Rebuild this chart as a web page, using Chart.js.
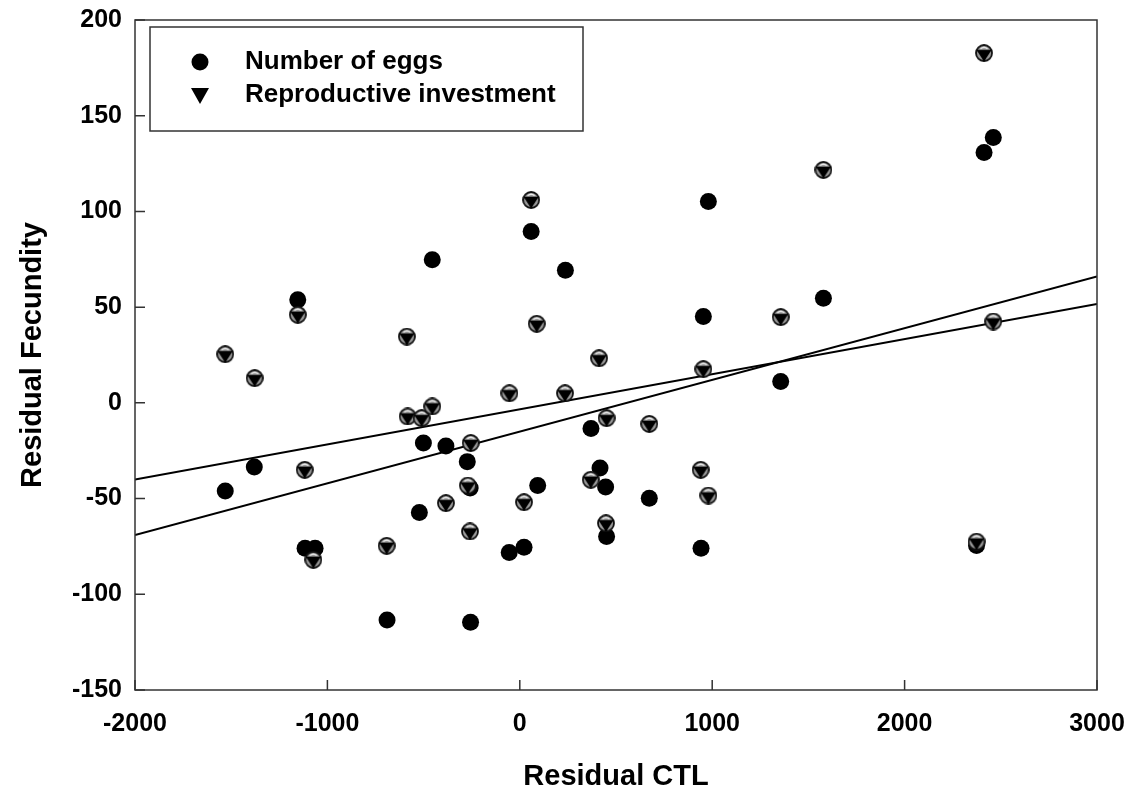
<!DOCTYPE html>
<html>
<head>
<meta charset="utf-8">
<script src="https://cdn.jsdelivr.net/npm/chart.js@4.4.1/dist/chart.umd.min.js"></script>
<style>
    html, body { margin: 0; padding: 0; background: #fff; }
</style>
</head>
<body>
<canvas id="fecundityChart" width="1133" height="800"></canvas>
<script>
// Number of eggs (filled circles)
const eggsX = [-1531, -1380, -1154, -1116, -1064, -690, -522, -501, -455, -384, -273, -258, -256, -55, 22, 59, 93, 237, 370, 417, 446, 451, 673, 942, 954, 980, 1356, 1578, 2374, 2413, 2461];
const eggsY = [-46, -33.5, 53.8, -75.9, -75.9, -113.4, -57.3, -21, 74.7, -22.5, -30.7, -44.5, -114.6, -78.2, -75.4, 89.5, -43.2, 69.3, -13.4, -34, -44, -69.8, -49.8, -75.9, 45.1, 105.2, 11.1, 54.7, -74.5, 130.8, 138.6];

// Reproductive investment (down triangles)
const investX = [-1531, -1378, -1154, -1118, -1073, -692, -587, -583, -510, -455, -384, -270, -259, -255, -54, 22, 59, 88, 235, 369, 412, 448, 451, 673, 940, 954, 980, 1356, 1578, 2374, 2413, 2461];
const investY = [25.4, 12.9, 46, -35, -82, -74.7, 34.6, -7.1, -8, -1.9, -52.4, -43.2, -67.2, -21, 5, -51.9, 106, 41.3, 5, -40.2, 23.3, -62.9, -8, -11, -35, 17.6, -48.4, 44.8, 121.7, -72.5, 182.7, 42.5];

// fitted lines (end points)
const fitEggsX = [-2000, 3000];
const fitEggsY = [-69, 66];
const fitInvestX = [-2000, 3000];
const fitInvestY = [-40, 51.7];

const xTicks = [-2000, -1000, 0, 1000, 2000, 3000];
const yTicks = [-150, -100, -50, 0, 50, 100, 150, 200];

const FONT = '"Liberation Sans", Arial, Helvetica, sans-serif';

function toPoints(xs, ys) {
    return xs.map((x, i) => ({ x: x, y: ys[i] }));
}

// circle with a black down-pointing triangle inside
function makeInvestMarker(size) {
    const c = document.createElement('canvas');
    c.width = size;
    c.height = size;
    const g = c.getContext('2d');
    const cx = size / 2, cy = size / 2, r = size / 2 - 1;
    g.beginPath();
    g.arc(cx, cy, r, 0, Math.PI * 2);
    g.fillStyle = '#9a9a9a';
    g.fill();
    g.lineWidth = 1.8;
    g.strokeStyle = '#111';
    g.stroke();
    g.beginPath();
    g.moveTo(cx - r * 0.95, cy - r * 0.42);
    g.lineTo(cx + r * 0.95, cy - r * 0.42);
    g.lineTo(cx, cy + r + 0.5);
    g.closePath();
    g.fillStyle = '#000';
    g.fill();
    g.beginPath();
    g.arc(cx, cy, r - 2.5, Math.PI * 1.28, Math.PI * 1.72);
    g.lineWidth = 1.4;
    g.strokeStyle = '#eee';
    g.stroke();
    return c;
}

const investMarker = makeInvestMarker(18);

const frameAndTicks = {
    id: 'frameAndTicks',
    afterDatasetsDraw(chart) {
        const { ctx, chartArea: a, scales } = chart;
        ctx.save();
        ctx.strokeStyle = '#333';
        ctx.lineWidth = 1.5;
        ctx.strokeRect(a.left, a.top, a.right - a.left, a.bottom - a.top);
        ctx.beginPath();
        xTicks.forEach(v => {
            const px = scales.x.getPixelForValue(v);
            ctx.moveTo(px, a.bottom);
            ctx.lineTo(px, a.bottom - 10);
        });
        yTicks.forEach(v => {
            const py = scales.y.getPixelForValue(v);
            ctx.moveTo(a.left, py);
            ctx.lineTo(a.left + 10, py);
        });
        ctx.stroke();
        ctx.restore();
    }
};

const boxLegend = {
    id: 'boxLegend',
    afterDraw(chart) {
        const { ctx, chartArea: a } = chart;
        const x0 = a.left + 15, y0 = a.top + 7, w = 433, h = 104;
        ctx.save();
        ctx.fillStyle = '#fff';
        ctx.fillRect(x0, y0, w, h);
        ctx.strokeStyle = '#333';
        ctx.lineWidth = 1.5;
        ctx.strokeRect(x0, y0, w, h);

        const rows = [y0 + 35, y0 + 68];
        // circle marker
        ctx.beginPath();
        ctx.arc(x0 + 50, rows[0], 8.5, 0, Math.PI * 2);
        ctx.fillStyle = '#000';
        ctx.fill();
        // triangle marker
        ctx.beginPath();
        ctx.moveTo(x0 + 41, rows[1] - 7);
        ctx.lineTo(x0 + 59, rows[1] - 7);
        ctx.lineTo(x0 + 50, rows[1] + 9);
        ctx.closePath();
        ctx.fill();

        ctx.font = 'bold 26px ' + FONT;
        ctx.textBaseline = 'middle';
        ctx.textAlign = 'left';
        ctx.fillText(chart.data.datasets[0].label, x0 + 95, rows[0]);
        ctx.fillText(chart.data.datasets[1].label, x0 + 95, rows[1]);
        ctx.restore();
    }
};

new Chart(document.getElementById('fecundityChart').getContext('2d'), {
    type: 'scatter',
    data: {
        datasets: [
            {
                label: 'Number of eggs',
                data: toPoints(eggsX, eggsY),
                pointStyle: 'circle',
                pointRadius: 8.5,
                backgroundColor: '#000',
                borderColor: '#000',
                borderWidth: 0,
                order: 2
            },
            {
                label: 'Reproductive investment',
                data: toPoints(investX, investY),
                pointStyle: investMarker,
                pointRadius: 9,
                order: 1
            },
            {
                type: 'line',
                label: 'fit eggs',
                data: toPoints(fitEggsX, fitEggsY),
                borderColor: '#000',
                borderWidth: 2,
                pointRadius: 0,
                fill: false,
                order: 3
            },
            {
                type: 'line',
                label: 'fit investment',
                data: toPoints(fitInvestX, fitInvestY),
                borderColor: '#000',
                borderWidth: 2,
                pointRadius: 0,
                fill: false,
                order: 3
            }
        ]
    },
    options: {
        responsive: false,
        animation: false,
        devicePixelRatio: 1,
        layout: { padding: { top: 20, right: 36, left: 0, bottom: 0 } },
        plugins: {
            legend: { display: false },
            tooltip: { enabled: false }
        },
        scales: {
            x: {
                type: 'linear',
                min: -2000,
                max: 3000,
                afterBuildTicks: s => { s.ticks = xTicks.map(v => ({ value: v })); },
                afterFit: s => {
                    s.height = 110;
                    s.paddingLeft = 0;
                    s.paddingRight = 0;
                },
                grid: { display: false, drawTicks: false },
                border: { display: false },
                ticks: {
                    autoSkip: false,
                    maxRotation: 0,
                    padding: 19,
                    color: '#000',
                    font: { family: FONT, size: 25, weight: 'bold' },
                    callback: v => String(v)
                },
                title: {
                    display: true,
                    text: 'Residual CTL',
                    color: '#000',
                    padding: { top: 0, bottom: 6 },
                    font: { family: FONT, size: 29, weight: 'bold' }
                }
            },
            y: {
                type: 'linear',
                min: -150,
                max: 200,
                afterBuildTicks: s => { s.ticks = yTicks.map(v => ({ value: v })); },
                afterFit: s => {
                    s.width = 135;
                    s.paddingTop = 0;
                    s.paddingBottom = 0;
                },
                grid: { display: false, drawTicks: false },
                border: { display: false },
                ticks: {
                    autoSkip: false,
                    padding: 13,
                    color: '#000',
                    font: { family: FONT, size: 25, weight: 'bold' },
                    callback: v => String(v)
                },
                title: {
                    display: true,
                    text: 'Residual Fecundity',
                    color: '#000',
                    padding: { top: 16, bottom: 0 },
                    font: { family: FONT, size: 29, weight: 'bold' }
                }
            }
        }
    },
    plugins: [frameAndTicks, boxLegend]
});
</script>
</body>
</html>
